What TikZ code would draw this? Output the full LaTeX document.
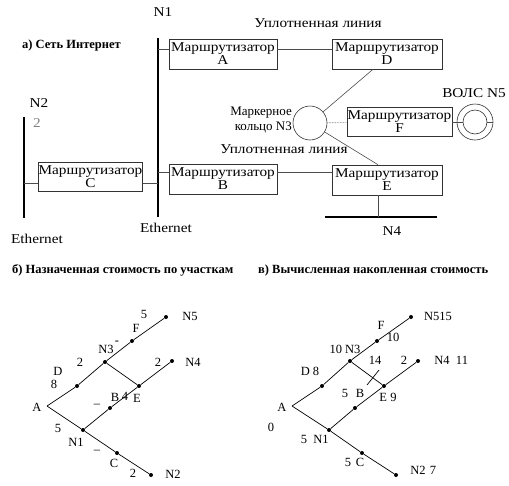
\documentclass[tikz,border=0pt]{standalone}
\usepackage{fontspec}
\setmainfont{Liberation Serif}
\newfontfamily\widefont[FakeStretch=1.13]{Liberation Serif}
\newcommand\myrf{\widefont\fontsize{13.5}{13}\selectfont}
\newcommand\mylf{\widefont\fontsize{13.5}{14.5}\selectfont}
\newcommand\mynf{\fontsize{13}{14.5}\selectfont}
\newcommand\mytf{\fontsize{12.5}{14}\selectfont\bfseries}
\newcommand\mysf{\fontsize{12.5}{14}\selectfont}
\begin{document}
\begin{tikzpicture}[x=1pt,y=-1pt,
  router/.style={draw=black!80, line width=0.6pt, minimum height=30pt, inner sep=0pt, align=center, font=\myrf},
  bus/.style={line width=2pt},
  link/.style={draw=black!70, line width=0.6pt},
  dot/.style={circle, fill, inner sep=0pt, minimum size=4pt},
  lbl/.style={font=\mylf, inner sep=0pt},
  tl/.style={font=\mysf, inner sep=0pt},
  ttl/.style={font=\mytf, inner sep=0pt, anchor=west},
  edge/.style={line width=0.7pt}]
\useasboundingbox (0,0) rectangle (509,485);

% ---------- part a ----------
\node[ttl] (ta) at (22,45) {а) Сеть Интернет};

\node[router, minimum width=108pt] (A) at (223,54) {Маршрутизатор\\A};
\node[router, minimum width=110pt] (D) at (387,54) {Маршрутизатор\\D};
\node[router, minimum width=105pt, minimum height=29pt] (F) at (399.5,122) {Маршрутизатор\\F};
\node[router, minimum width=110pt] (E) at (387,180) {Маршрутизатор\\E};
\node[router, minimum width=108pt] (B) at (223,179) {Маршрутизатор\\B};
\node[router, minimum width=103pt, minimum height=29pt] (C) at (90.5,177) {Маршрутизатор\\C};

\coordinate (N1t) at (158,38);
\coordinate (N1b) at (158,217);
\coordinate (N2t) at (24,117);
\coordinate (N2b) at (24,218);
\coordinate (N4l) at (325,217);
\coordinate (N4r) at (437,217);
\draw[bus] (N1t) -- (N1b);
\draw[bus] (N2t) -- (N2b);
\draw[bus] (N4l) -- (N4r);

\node[circle, draw=black!80, line width=0.6pt, minimum size=34pt, inner sep=0pt] (R) at (310,123) {};
\node[circle, draw=black!80, line width=0.6pt, minimum size=36pt, inner sep=0pt] (V) at (475,122) {};
\node[circle, draw=black!80, line width=0.6pt, minimum size=24pt, inner sep=0pt] (Vi) at (475,122) {};

\draw[link] ([yshift=5pt]A.west) -- ([yshift=5pt]A.west -| N1t);
\draw[link] ([yshift=5pt]A.east) -- ([yshift=5pt]A.east -| D.west);
\draw[link] ([yshift=7pt]B.west) -- ([yshift=7pt]B.west -| N1t);
\draw[link] ([yshift=7pt]B.east) -- ([yshift=7pt]B.east -| E.west);
\draw[link] ([yshift=-6.5pt]C.west) -- ([yshift=-6.5pt]C.west -| N2t);
\draw[link] ([yshift=-6.5pt]C.east) -- ([yshift=-6.5pt]C.east -| N1t);
\draw[link] ([xshift=-14pt]D.south) -- (R);
\draw[link] ([xshift=-9pt]E.north) -- (R);
\draw[link, densely dotted] (R) -- (F);
\draw[link] (F.east) -- (Vi.west);
\draw[link] (Vi.east) -- (V.east);
\draw[link] ([xshift=-9pt]E.south) -- ([xshift=-9pt]E.south |- N4l);

\node[lbl] (lN1) at (163,12) {N1};
\node[lbl] (lu1) at (318,23) {Уплотненная линия};
\node[lbl] (lu2) at (284,149) {Уплотненная линия};
\node[font=\mynf, inner sep=0pt, align=right, anchor=east] (lR) at (292,120) {Маркерное\\кольцо N3};
\node[lbl] (lV) at (474,93) {ВОЛС N5};
\node[lbl] (lN2) at (39,103) {N2};
\node[lbl, text=black!50] (l2) at (37,123) {2};
\node[lbl] (le1) at (37,239) {Ethernet};
\node[lbl] (le2) at (166,228) {Ethernet};
\node[lbl] (lN4) at (392,231) {N4};

% ---------- part b ----------
\node[ttl] (tb) at (12,270) {б) Назначенная стоимость по участкам};
\coordinate (bA) at (47,406);
\node[dot] (bD) at (77,386) {};
\node[dot] (bN3) at (105,362) {};
\node[dot] (bF) at (132,341) {};
\node[dot] (bN5) at (166,317) {};
\node[dot] (bE) at (139,386) {};
\node[dot] (bN4) at (172,361) {};
\node[dot] (bB) at (110,408) {};
\node[dot] (bN1) at (83,430) {};
\node[dot] (bC) at (117,453) {};
\node[dot] (bN2) at (151,475) {};
\draw[edge] (bA) -- (bD) -- (bN3) -- (bF) -- (bN5);
\draw[edge] (bN3) -- (bE);
\draw[edge] (bN1) -- (bB) -- (bE) -- (bN4);
\draw[edge] (bA) -- (bN1) -- (bC) -- (bN2);

\node[tl] at (144,314) {5};
\node[tl] at (190,316) {N5};
\node[tl] at (136,328) {F};
\node[tl] at (106,349) {N3};
\node[tl] at (117,343) {-};
\node[tl] at (80,362) {2};
\node[tl] at (158,362) {2};
\node[tl] at (193,362) {N4};
\node[tl] at (58,371) {D};
\node[tl] at (54,384) {8};
\node[tl] at (37,407) {A};
\node[tl] at (115,397) {B};
\node[tl] at (125,396) {4};
\node[tl] at (137,398) {E};
\node[tl] at (97,406) {–};
\node[tl] at (58,428) {5};
\node[tl] at (76,442) {N1};
\node[tl] at (97,452) {–};
\node[tl] at (114,463) {C};
\node[tl] at (133,473) {2};
\node[tl] at (173,474) {N2};

% ---------- part c ----------
\node[ttl] (tc) at (258,270) {в) Вычисленная накопленная стоимость};
\coordinate (cA) at (292,406);
\node[dot] (cD) at (322,386) {};
\node[dot] (cN3) at (350,361) {};
\node[dot] (cF) at (377,341) {};
\node[dot] (cN5) at (411,317) {};
\node[dot] (cE) at (384,386) {};
\node[dot] (cN4) at (418,361) {};
\node[dot] (cB) at (355,408) {};
\node[dot] (cN1) at (329,430) {};
\node[dot] (cC) at (362,453) {};
\node[dot] (cN2) at (396,475) {};
\draw[edge] (cA) -- (cD) -- (cN3) -- (cF) -- (cN5);
\draw[edge] (cN3) -- (cE);
\draw[edge] (cN1) -- (cB) -- (cE) -- (cN4);
\draw[edge] (cA) -- (cN1) -- (cC) -- (cN2);
\coordinate (x1) at (367,385);
\coordinate (x2) at (379,370);
\draw[edge] (x1) -- (x2);

\node[tl] at (282,407) {A};
\node[tl] at (438,316) {N515};
\node[tl] at (381,325) {F};
\node[tl] at (393,337) {10};
\node[tl] at (345,349) {10 N3};
\node[tl] at (375,360) {14};
\node[tl] at (404,360) {2};
\node[tl] at (442,360) {N4};
\node[tl] at (462,360) {11};
\node[tl] at (310,371) {D 8};
\node[tl] at (345,393) {5};
\node[tl] at (360,393) {B};
\node[tl] at (388,397) {E 9};
\node[tl] at (271,427) {0};
\node[tl] at (304,439) {5};
\node[tl] at (321,439) {N1};
\node[tl] at (348,462) {5};
\node[tl] at (360,462) {C};
\node[tl] at (418,470) {N2};
\node[tl] at (433,470) {7};
\end{tikzpicture}
\end{document}
